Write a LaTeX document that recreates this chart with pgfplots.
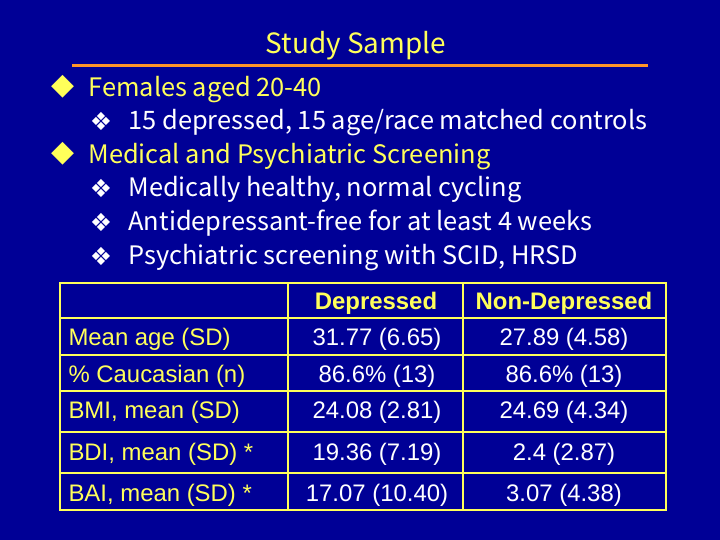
\documentclass[border=0pt]{standalone}
\usepackage{pgfplots}
\pgfplotsset{compat=1.18}
\usepackage{fontspec}
\setmainfont{Liberation Sans}
\newfontfamily\jp{Noto Sans CJK JP}
\newfontfamily\sym{DejaVu Sans}
\definecolor{bg}{RGB}{0,0,150}
\definecolor{yel}{RGB}{255,255,90}
\definecolor{orng}{RGB}{255,150,40}
\newcommand\fs[1]{\fontsize{#1}{#1}\selectfont}
\begin{document}
\begin{tikzpicture}
\begin{axis}[width=720bp,height=540bp,scale only axis,
  xmin=0,xmax=720,ymin=0,ymax=540,y dir=reverse,
  axis lines=none,ticks=none,clip=false]
\fill[bg] (0,0) rectangle (720,540);
% title
\node[anchor=base,text=yel,font=\jp\fs{28}] at (356,54) {Study Sample};
\draw[orng,line width=3.5bp] (72,65.5) -- (648,65.5);
% bullets
\node[text=yel,font=\sym\fs{30}] at (63,87) {◆};
\node[anchor=base west,text=yel,font=\jp\fs{25.5}] at (85,97) {Females aged 20-40};
\node[text=white,font=\sym\fs{25}] at (101,121) {❖};
\node[anchor=base west,text=white,font=\jp\fs{25.5}] at (125,130) {15 depressed, 15 age/race matched controls};
\node[text=yel,font=\sym\fs{30}] at (63,154) {◆};
\node[anchor=base west,text=yel,font=\jp\fs{25.5}] at (85,164) {Medical and Psychiatric Screening};
\node[text=white,font=\sym\fs{25}] at (101,188) {❖};
\node[anchor=base west,text=white,font=\jp\fs{25.5}] at (125,197) {Medically healthy, normal cycling};
\node[text=white,font=\sym\fs{25}] at (101,222) {❖};
\node[anchor=base west,text=white,font=\jp\fs{25.5}] at (125,231) {Antidepressant-free for at least 4 weeks};
\node[text=white,font=\sym\fs{25}] at (101,256) {❖};
\node[anchor=base west,text=white,font=\jp\fs{25.5}] at (125,265) {Psychiatric screening with SCID, HRSD};
% table grid
\draw[yel,line width=1.2bp] (60,318) -- (666,318) (60,355) -- (666,355) (60,391) -- (666,391)
  (60,432) -- (666,432) (60,473) -- (666,473) (288,283) -- (288,510) (463,283) -- (463,510);
\draw[yel,line width=2bp] (60,283) rectangle (666,510);
% header
\node[anchor=base,text=yel,font=\bfseries\fs{24}] at (376,309) {Depressed};
\node[anchor=base,text=yel,font=\bfseries\fs{24}] at (564,309) {Non-Depressed};
% rows
\node[anchor=base west,text=yel,font=\fs{24}] at (65,345) {Mean age (SD)};
\node[anchor=base,text=white,font=\fs{24}] at (377,345) {31.77 (6.65)};
\node[anchor=base,text=white,font=\fs{24}] at (564,345) {27.89 (4.58)};
\node[anchor=base west,text=yel,font=\fs{24}] at (65,382) {\% Caucasian (n)};
\node[anchor=base,text=white,font=\fs{24}] at (377,382) {86.6\% (13)};
\node[anchor=base,text=white,font=\fs{24}] at (564,382) {86.6\% (13)};
\node[anchor=base west,text=yel,font=\fs{24}] at (65,418) {BMI, mean (SD)};
\node[anchor=base,text=white,font=\fs{24}] at (377,418) {24.08 (2.81)};
\node[anchor=base,text=white,font=\fs{24}] at (564,418) {24.69 (4.34)};
\node[anchor=base west,text=yel,font=\fs{24}] at (65,460) {BDI, mean (SD) *};
\node[anchor=base,text=white,font=\fs{24}] at (377,460) {19.36 (7.19)};
\node[anchor=base,text=white,font=\fs{24}] at (564,460) {2.4 (2.87)};
\node[anchor=base west,text=yel,font=\fs{24}] at (65,501) {BAI, mean (SD) *};
\node[anchor=base,text=white,font=\fs{24}] at (377,501) {17.07 (10.40)};
\node[anchor=base,text=white,font=\fs{24}] at (564,501) {3.07 (4.38)};
\end{axis}
\end{tikzpicture}
\end{document}
